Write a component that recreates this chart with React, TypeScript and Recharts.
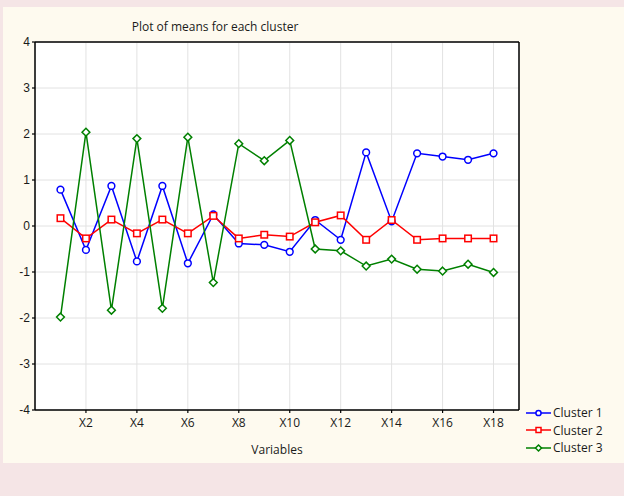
import { LineChart, Line, XAxis, YAxis, CartesianGrid, Legend } from 'recharts'

const variables = ['X1', 'X2', 'X3', 'X4', 'X5', 'X6', 'X7', 'X8', 'X9', 'X10', 'X11', 'X12', 'X13', 'X14', 'X15', 'X16', 'X17', 'X18']

const cluster1 = [0.79, -0.52, 0.87, -0.77, 0.87, -0.81, 0.25, -0.38, -0.41, -0.56, 0.13, -0.30, 1.60, 0.10, 1.58, 1.51, 1.44, 1.58]
const cluster2 = [0.17, -0.27, 0.14, -0.16, 0.14, -0.16, 0.22, -0.27, -0.19, -0.23, 0.08, 0.23, -0.30, 0.13, -0.30, -0.27, -0.27, -0.27]
const cluster3 = [-1.98, 2.04, -1.83, 1.90, -1.79, 1.93, -1.23, 1.79, 1.42, 1.86, -0.50, -0.54, -0.87, -0.72, -0.94, -0.98, -0.83, -1.01]

const xTicks = [2, 4, 6, 8, 10, 12, 14, 16, 18]
const xMinorTicks = [1, 2, 3, 4, 5, 6, 7, 8, 9, 10, 11, 12, 13, 14, 15, 16, 17, 18]
const yTicks = [-4, -3, -2, -1, 0, 1, 2, 3, 4]
const yMinorTicks = Array.from({ length: 33 }, (_, i) => -4 + i * 0.25)

const series = [
  { key: 'c1', name: 'Cluster 1', color: '#0000ff', shape: 'circle' },
  { key: 'c2', name: 'Cluster 2', color: '#ff0000', shape: 'square' },
  { key: 'c3', name: 'Cluster 3', color: '#008000', shape: 'diamond' },
]

const data = variables.map((v, i) => ({
  x: i + 1,
  name: v,
  c1: cluster1[i],
  c2: cluster2[i],
  c3: cluster3[i],
}))

const FONT = '"Open Sans", sans-serif'
const TICK_LINE = { stroke: '#000', strokeWidth: 1.2 }
const AXIS_LINE = { stroke: '#000', strokeWidth: 1.5 }

function marker(shape: string, color: string, cx: number, cy: number, s: number, key?: string | number) {
  if (shape === 'circle') {
    return <circle key={key} cx={cx} cy={cy} r={s * 0.52} fill="#fff" stroke={color} strokeWidth={1.5} />
  }
  if (shape === 'square') {
    return <rect key={key} x={cx - s / 2} y={cy - s / 2} width={s} height={s} fill="#fff" stroke={color} strokeWidth={1.5} />
  }
  const r = s * 0.6
  return (
    <polygon key={key} points={`${cx},${cy - r} ${cx + r},${cy} ${cx},${cy + r} ${cx - r},${cy}`}
      fill="#fff" stroke={color} strokeWidth={1.5} />
  )
}

function LegendBox() {
  return (
    <div style={{ fontFamily: FONT, fontSize: 12, color: '#1a1a1a' }}>
      {series.map((s) => (
        <div key={s.key} style={{ display: 'flex', alignItems: 'center', height: 17.5 }}>
          <svg width={26} height={10}>
            <line x1={0} y1={5} x2={25} y2={5} stroke={s.color} strokeWidth={1.5} />
            {marker(s.shape, s.color, 12.5, 5, 5)}
          </svg>
          <span style={{ marginLeft: 1 }}>{s.name}</span>
        </div>
      ))}
    </div>
  )
}

export default function App() {
  return (
    <div style={{ position: 'absolute', left: 0, top: 0, width: 624, height: 496, background: '#f5e5e6' }}>
      <div style={{ position: 'absolute', left: 3, top: 7, width: 621, height: 456, background: '#fefaef' }} />
      <div style={{
        position: 'absolute', left: 215, top: 18, transform: 'translateX(-50%)',
        fontFamily: FONT, fontSize: 12, color: '#1a1a1a', whiteSpace: 'nowrap',
      }}>
        Plot of means for each cluster
      </div>
      <div style={{ position: 'absolute', left: 0, top: 0 }}>
        <LineChart width={624} height={496} data={data} margin={{ top: 42, right: 105, bottom: 36, left: 0 }}>
          <CartesianGrid stroke="#e2e2e2" strokeWidth={1} fill="#fff" />
          <XAxis xAxisId="minor" dataKey="x" type="number" domain={[0, 19]} allowDataOverflow
            ticks={xMinorTicks} height={1} mirror tick={false} tickSize={4}
            axisLine={false} tickLine={TICK_LINE} />
          <XAxis dataKey="x" type="number" domain={[0, 19]} allowDataOverflow ticks={xTicks}
            height={50} tickSize={3} tickMargin={5}
            tickFormatter={(v: number) => variables[v - 1]}
            tick={{ fill: '#1a1a1a', fontSize: 12, fontFamily: FONT }}
            axisLine={AXIS_LINE} tickLine={TICK_LINE}
            label={{ value: 'Variables', position: 'insideBottom', offset: 6, fill: '#1a1a1a', fontSize: 12, fontFamily: FONT }} />
          <XAxis xAxisId="top" orientation="top" dataKey="x" type="number" domain={[0, 19]} allowDataOverflow
            ticks={xMinorTicks} height={1} mirror tick={false} tickSize={4}
            axisLine={AXIS_LINE} tickLine={TICK_LINE} />
          <YAxis yAxisId="minor" type="number" domain={[-4, 4]} allowDataOverflow ticks={yMinorTicks}
            width={1} mirror tick={false} tickSize={3} axisLine={false} tickLine={TICK_LINE} />
          <YAxis type="number" domain={[-4, 4]} allowDataOverflow ticks={yTicks} width={35}
            tickSize={3} tickMargin={2}
            tick={{ fill: '#1a1a1a', fontSize: 12, fontFamily: '"Liberation Sans", Arial, sans-serif' }}
            axisLine={AXIS_LINE} tickLine={TICK_LINE} />
          <YAxis yAxisId="right" orientation="right" type="number" domain={[-4, 4]} allowDataOverflow
            ticks={yMinorTicks} width={1} mirror tick={false} tickSize={3}
            axisLine={AXIS_LINE} tickLine={TICK_LINE} />
          <Legend layout="vertical" align="center" verticalAlign="middle"
            wrapperStyle={{ left: 526, top: 404, width: 98 }} content={() => <LegendBox />} />
          {/* hidden series so the frame axes get rendered */}
          <Line xAxisId="minor" yAxisId="minor" dataKey="c1" stroke="none" dot={false} activeDot={false}
            legendType="none" isAnimationActive={false} />
          <Line xAxisId="top" yAxisId="right" dataKey="c1" stroke="none" dot={false} activeDot={false}
            legendType="none" isAnimationActive={false} />
          {series.map((s) => (
            <Line key={s.key} dataKey={s.key} name={s.name} stroke={s.color} strokeWidth={1.5}
              isAnimationActive={false} legendType="none"
              dot={(p: any) => marker(s.shape, s.color, p.cx, p.cy, 6.5, p.index)}
              activeDot={false} />
          ))}
        </LineChart>
      </div>
    </div>
  )
}
